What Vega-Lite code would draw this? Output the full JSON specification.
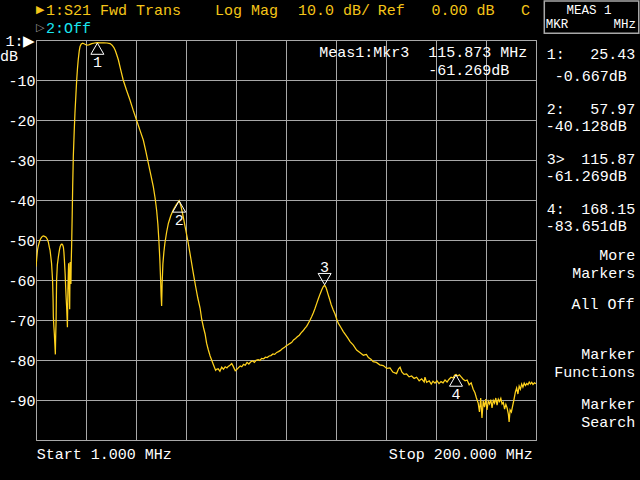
{
  "$schema": "https://vega.github.io/schema/vega-lite/v6.json",
  "width": 500,
  "height": 400,
  "autosize": {"type": "none"},
  "padding": {"left": 36, "top": 40, "right": 104, "bottom": 40},
  "background": "#000000",
  "config": {
    "view": {"stroke": "#a8a8a8", "strokeWidth": 1},
    "text": {"font": "Liberation Mono", "fontSize": 15, "baseline": "middle"}
  },
  "datasets": {
    "trace": [
      {"f":1.0,"db":-56.7},{"f":1.3,"db":-54.5},{"f":1.6,"db":-52.5},{"f":1.9,"db":-51.5},{"f":2.3,"db":-50.6},{"f":2.6,"db":-50.0},{"f":3.0,"db":-49.5},{"f":3.5,"db":-49.1},{"f":3.9,"db":-49.0},{"f":4.4,"db":-49.1},{"f":5.0,"db":-49.3},{"f":5.5,"db":-49.8},{"f":5.9,"db":-50.5},{"f":6.3,"db":-51.8},{"f":6.6,"db":-52.6},{"f":6.9,"db":-54.2},{"f":7.2,"db":-55.9},{"f":7.4,"db":-58},{"f":7.6,"db":-60.2},{"f":7.8,"db":-65},{"f":7.9,"db":-69.2},{"f":8.1,"db":-71.5},{"f":8.3,"db":-73.5},{"f":8.5,"db":-76},{"f":8.7,"db":-78.6},{"f":8.8,"db":-75},{"f":9.0,"db":-70},{"f":9.1,"db":-64.5},{"f":9.2,"db":-60},{"f":9.5,"db":-56.2},{"f":9.9,"db":-54.2},{"f":10.3,"db":-52.6},{"f":10.6,"db":-51.7},{"f":11.0,"db":-51.1},{"f":11.3,"db":-51.0},{"f":11.6,"db":-51.2},{"f":11.9,"db":-51.8},{"f":12.1,"db":-53},{"f":12.3,"db":-55},{"f":12.6,"db":-58.5},{"f":12.8,"db":-61.7},{"f":13.0,"db":-64.5},{"f":13.2,"db":-66.8},{"f":13.4,"db":-70},{"f":13.5,"db":-71.8},{"f":13.6,"db":-67},{"f":13.7,"db":-62.5},{"f":13.9,"db":-57.5},{"f":14.0,"db":-55.8},{"f":14.1,"db":-59},{"f":14.3,"db":-64.5},{"f":14.4,"db":-67.3},{"f":14.5,"db":-60},{"f":14.6,"db":-55.5},{"f":14.8,"db":-59.5},{"f":14.9,"db":-61},{"f":15.0,"db":-56},{"f":15.2,"db":-51},{"f":15.4,"db":-44},{"f":15.6,"db":-36.7},{"f":15.85,"db":-29.2},{"f":16.2,"db":-23},{"f":16.5,"db":-18.3},{"f":16.9,"db":-13.5},{"f":17.2,"db":-10},{"f":17.5,"db":-7.2},{"f":17.8,"db":-5},{"f":18.2,"db":-2.8},{"f":18.5,"db":-1.7},{"f":19.0,"db":-1.0},{"f":19.6,"db":-0.8},{"f":20.3,"db":-1.0},{"f":21.2,"db":-1.3},{"f":22.0,"db":-1.2},{"f":23.2,"db":-0.9},{"f":24.3,"db":-0.75},{"f":25.43,"db":-0.667},{"f":26.5,"db":-0.7},{"f":28.0,"db":-0.7},{"f":29.3,"db":-0.75},{"f":30.5,"db":-0.9},{"f":31.3,"db":-1.3},{"f":32.0,"db":-1.9},{"f":32.6,"db":-2.7},{"f":33.2,"db":-3.8},{"f":33.8,"db":-5.0},{"f":34.7,"db":-7.4},{"f":35.7,"db":-10},{"f":37.0,"db":-12.5},{"f":38.4,"db":-15},{"f":39.7,"db":-17.6},{"f":41.0,"db":-20},{"f":42.4,"db":-22.6},{"f":43.7,"db":-25},{"f":44.7,"db":-27.8},{"f":45.7,"db":-30.8},{"f":46.7,"db":-33.7},{"f":47.7,"db":-36.7},{"f":48.4,"db":-39.5},{"f":49.0,"db":-42.5},{"f":49.5,"db":-46},{"f":49.9,"db":-50},{"f":50.3,"db":-55},{"f":50.6,"db":-60},{"f":50.8,"db":-64},{"f":51.0,"db":-66.5},{"f":51.2,"db":-61},{"f":51.5,"db":-56},{"f":51.9,"db":-53},{"f":52.3,"db":-50.8},{"f":53.0,"db":-48},{"f":53.7,"db":-45.8},{"f":54.6,"db":-44},{"f":55.6,"db":-42.5},{"f":56.8,"db":-41.2},{"f":57.97,"db":-40.13},{"f":58.7,"db":-41.5},{"f":59.6,"db":-44.2},{"f":60.6,"db":-47.5},{"f":61.6,"db":-50.8},{"f":62.6,"db":-54.5},{"f":63.6,"db":-58.3},{"f":64.5,"db":-61.5},{"f":65.4,"db":-64.5},{"f":66.3,"db":-67},{"f":67.0,"db":-70},{"f":67.7,"db":-72},{"f":68.3,"db":-73.5},{"f":68.9,"db":-75.8},{"f":69.6,"db":-77.5},{"f":70.3,"db":-79},{"f":70.9,"db":-80},{"f":71.5,"db":-81},{"f":72.0,"db":-81.8},{"f":72.5,"db":-82.6},{"f":72.9,"db":-82.3},
      {"f":73.5,"db":-82.2},{"f":74.2,"db":-82.8},{"f":74.9,"db":-81.8},{"f":75.6,"db":-82.3},{"f":76.3,"db":-81.7},{"f":77.0,"db":-82.0},{"f":77.5,"db":-81.6},{"f":78.2,"db":-81.3},{"f":78.9,"db":-80.9},{"f":79.5,"db":-81.6},{"f":80.3,"db":-82.7},{"f":80.9,"db":-82.4},{"f":81.6,"db":-81.9},{"f":82.3,"db":-81.5},{"f":82.9,"db":-81.7},{"f":83.6,"db":-81.1},{"f":84.3,"db":-81.3},{"f":85.0,"db":-80.6},{"f":85.7,"db":-81.0},{"f":86.4,"db":-80.5},{"f":87.2,"db":-80.2},{"f":87.9,"db":-80.6},{"f":88.6,"db":-80.1},{"f":89.4,"db":-79.9},{"f":90.1,"db":-80.1},{"f":90.8,"db":-79.6},{"f":91.6,"db":-79.7},{"f":92.3,"db":-79.3},{"f":93.0,"db":-79.4},{"f":93.8,"db":-79.0},{"f":94.5,"db":-78.9},{"f":95.3,"db":-78.5},{"f":96.0,"db":-78.6},{"f":96.8,"db":-78.1},{"f":97.5,"db":-77.9},{"f":98.3,"db":-77.6},{"f":99.0,"db":-77.2},{"f":99.8,"db":-76.9},{"f":100.5,"db":-76.5},{"f":101.3,"db":-76.2},{"f":102.0,"db":-75.9},{"f":102.8,"db":-75.6},{"f":103.5,"db":-75.0},{"f":104.3,"db":-74.6},{"f":105.0,"db":-74.2},{"f":105.8,"db":-73.8},{"f":106.5,"db":-73.2},{"f":107.3,"db":-72.7},{"f":108.0,"db":-72.1},{"f":108.7,"db":-71.6},{"f":109.4,"db":-70.8},{"f":110.0,"db":-70.1},{"f":110.7,"db":-69.2},{"f":111.4,"db":-68.2},{"f":112.0,"db":-67.2},{"f":112.7,"db":-65.9},{"f":113.3,"db":-64.8},{"f":114.0,"db":-63.6},{"f":114.7,"db":-62.5},{"f":115.3,"db":-61.7},{"f":115.87,"db":-61.27},{"f":116.5,"db":-62.0},{"f":117.1,"db":-63.3},{"f":117.8,"db":-64.7},{"f":118.5,"db":-66.2},{"f":119.3,"db":-67.5},{"f":120.0,"db":-68.5},{"f":120.7,"db":-69.8},{"f":121.3,"db":-70.8},{"f":122.3,"db":-71.8},{"f":123.3,"db":-72.9},{"f":124.3,"db":-73.8},{"f":125.2,"db":-74.6},{"f":126.0,"db":-75.4},{"f":127.3,"db":-76.3},{"f":128.6,"db":-77.5},{"f":129.9,"db":-78.1},{"f":131.3,"db":-78.8},{"f":132.5,"db":-78.6},{"f":133.3,"db":-79.4},{"f":134.3,"db":-79.8},{"f":135.2,"db":-80.4},{"f":136.5,"db":-80.6},{"f":137.8,"db":-81.2},{"f":139.2,"db":-81.4},{"f":140.6,"db":-82.1},{"f":141.9,"db":-82.0},{"f":143.0,"db":-83.0},{"f":144.5,"db":-83.4},{"f":145.3,"db":-82.2},{"f":145.9,"db":-81.8},{"f":146.6,"db":-83.0},{"f":147.5,"db":-83.6},{"f":148.5,"db":-83.5},{"f":149.5,"db":-84.2},{"f":150.5,"db":-84.0},{"f":151.5,"db":-84.6},{"f":152.5,"db":-84.3},{"f":153.5,"db":-85.2},{"f":154.5,"db":-84.7},{"f":155.5,"db":-85.5},{"f":155.8,"db":-84.3},{"f":156.5,"db":-85.6},{"f":157.5,"db":-85.2},{"f":158.3,"db":-86.0},{"f":159.0,"db":-85.3},{"f":159.8,"db":-85.8},{"f":160.6,"db":-85.2},{"f":161.4,"db":-85.9},{"f":162.2,"db":-85.4},{"f":163.0,"db":-85.7},{"f":163.8,"db":-85.0},{"f":164.6,"db":-85.5},{"f":165.4,"db":-84.8},{"f":166.2,"db":-84.3},{"f":167.0,"db":-84.5},{"f":167.6,"db":-83.8},{"f":168.15,"db":-83.65},{"f":168.8,"db":-84.0},{"f":169.5,"db":-83.7},{"f":170.3,"db":-84.3},{"f":171.0,"db":-84.8},{"f":171.8,"db":-85.2},{"f":172.6,"db":-85.0},{"f":173.4,"db":-86.2},{"f":174.2,"db":-85.7},{"f":175.0,"db":-87.3},{"f":175.7,"db":-88.2},{"f":176.3,"db":-89.5},{"f":177.0,"db":-90.8},{"f":177.5,"db":-93.0},{"f":178.0,"db":-89.5},{"f":178.5,"db":-94.5},{"f":179.0,"db":-90.2},{"f":179.5,"db":-91.8},{"f":180.0,"db":-89.8},{"f":180.5,"db":-92.5},{"f":181.0,"db":-90.3},{"f":181.5,"db":-91.0},{"f":182.0,"db":-89.9},{"f":182.5,"db":-92.0},{"f":183.0,"db":-90.1},{"f":183.5,"db":-90.8},{"f":184.0,"db":-89.5},{"f":184.5,"db":-91.3},{"f":185.0,"db":-89.8},{"f":185.5,"db":-90.4},{"f":186.0,"db":-89.6},{"f":186.5,"db":-91.0},{"f":187.0,"db":-90.6},{"f":187.5,"db":-92.3},{"f":188.0,"db":-91.1},{"f":188.5,"db":-92.0},{"f":189.0,"db":-93.5},{"f":189.3,"db":-95.5},{"f":189.7,"db":-92.5},{"f":190.2,"db":-93.0},{"f":190.7,"db":-91.5},{"f":191.2,"db":-90.0},{"f":191.8,"db":-88.0},{"f":192.3,"db":-87.0},{"f":192.8,"db":-88.5},{"f":193.3,"db":-86.5},{"f":193.8,"db":-87.3},{"f":194.3,"db":-86.0},{"f":194.8,"db":-86.8},{"f":195.3,"db":-85.8},{"f":195.8,"db":-86.4},{"f":196.3,"db":-85.9},{"f":196.8,"db":-86.2},{"f":197.3,"db":-85.5},{"f":197.8,"db":-86.0},{"f":198.3,"db":-85.6},{"f":198.8,"db":-86.1},{"f":199.4,"db":-85.7},{"f":200.0,"db":-85.9}
    ],
    "markers": [
      {"n":"1","f":25.43,"db":-0.667,"active":false},
      {"n":"2","f":57.97,"db":-40.128,"active":false},
      {"n":"3","f":115.87,"db":-61.269,"active":true},
      {"n":"4","f":168.15,"db":-83.651,"active":false}
    ],
    "notes": [
      {"f":1.0,"db":7.4,"label":"▶","group":"sym"},
      {"f":4.98,"db":7.4,"label":"1:S21 Fwd Trans","group":"header"},
      {"f":72.2,"db":7.4,"label":"Log Mag","group":"header"},
      {"f":105.3,"db":7.4,"label":"10.0 dB/","group":"header"},
      {"f":137.0,"db":7.4,"label":"Ref","group":"header"},
      {"f":158.4,"db":7.4,"label":"0.00 dB","group":"header"},
      {"f":194.0,"db":7.4,"label":"C","group":"header"},
      {"f":1.0,"db":3.0,"label":"▷","group":"ch2sym"},
      {"f":4.98,"db":3.0,"label":"2:Off","group":"ch2"},
      {"f":-13.3,"db":-4.0,"label":"dB","group":"label"},
      {"f":113.75,"db":-3.1,"label":"Meas1:Mkr3","group":"label"},
      {"f":157.1,"db":-3.1,"label":"115.873 MHz","group":"label"},
      {"f":157.1,"db":-7.6,"label":"-61.269dB","group":"label"},
      {"f":1.28,"db":-103.5,"label":"Start 1.000 MHz","group":"label"},
      {"f":198.7,"db":-103.5,"label":"Stop 200.000 MHz","group":"value"},
      {"f":221.1,"db":7.5,"label":"MEAS 1","group":"boxtitle"},
      {"f":203.9,"db":4.0,"label":"MKR","group":"boxleft"},
      {"f":239.8,"db":4.0,"label":"MHz","group":"boxright"},
      {"f":204.3,"db":-3.58,"label":"1:","group":"label"},
      {"f":239.5,"db":-3.58,"label":"25.43","group":"value"},
      {"f":236.1,"db":-9.0,"label":"-0.667dB","group":"value"},
      {"f":204.3,"db":-17.25,"label":"2:","group":"label"},
      {"f":239.5,"db":-17.25,"label":"57.97","group":"value"},
      {"f":236.1,"db":-21.5,"label":"-40.128dB","group":"value"},
      {"f":204.3,"db":-29.67,"label":"3>","group":"label"},
      {"f":239.5,"db":-29.67,"label":"115.87","group":"value"},
      {"f":236.1,"db":-34.0,"label":"-61.269dB","group":"value"},
      {"f":204.3,"db":-42.25,"label":"4:","group":"label"},
      {"f":239.5,"db":-42.25,"label":"168.15","group":"value"},
      {"f":236.1,"db":-46.5,"label":"-83.651dB","group":"value"},
      {"f":239.5,"db":-53.75,"label":"More","group":"value"},
      {"f":239.5,"db":-58.17,"label":"Markers","group":"value"},
      {"f":239.2,"db":-66.0,"label":"All Off","group":"value"},
      {"f":239.5,"db":-78.58,"label":"Marker","group":"value"},
      {"f":239.5,"db":-82.92,"label":"Functions","group":"value"},
      {"f":239.5,"db":-91.08,"label":"Marker","group":"value"},
      {"f":239.5,"db":-95.58,"label":"Search","group":"value"}
    ],
    "box": [
      {"f":203.3,"f2":240.9,"db":9.75,"db2":1.67}
    ]
  },
  "encoding": {
    "x": {
      "field": "f", "type": "quantitative",
      "scale": {"domain": [1, 200], "nice": false, "zero": false},
      "axis": {
        "values": [1, 20.9, 40.8, 60.7, 80.6, 100.5, 120.4, 140.3, 160.2, 180.1, 200],
        "grid": true, "gridColor": "#a8a8a8", "gridOpacity": 1, "gridWidth": 1,
        "labels": false, "ticks": false, "domain": false, "title": null
      }
    },
    "y": {
      "field": "db", "type": "quantitative",
      "scale": {"domain": [-100, 0], "nice": false, "zero": false},
      "axis": {
        "values": [0, -10, -20, -30, -40, -50, -60, -70, -80, -90, -100],
        "grid": true, "gridColor": "#a8a8a8", "gridOpacity": 1, "gridWidth": 1,
        "ticks": false, "domain": false, "title": null,
        "labelColor": "#ffffff", "labelFont": "Liberation Mono", "labelFontSize": 15,
        "labelPadding": 1,
        "labelExpr": "datum.value == 0 ? '1:▶' : (datum.value == -100 ? '' : '' + datum.value)"
      }
    },
    "color": {"field": "group", "type": "nominal", "legend": null,
      "scale": {"domain": ["sym", "header", "ch2sym", "ch2", "label", "value", "boxtitle", "boxleft", "boxright"],
                "range": ["#f5c518", "#f5c518", "#9a9a9a", "#19e6f0", "#ffffff", "#ffffff", "#ffffff", "#ffffff", "#ffffff"]}}
  },
  "layer": [
    {
      "data": {"name": "trace"},
      "mark": {"type": "line", "color": "#ffd21c", "strokeWidth": 1.25, "clip": true, "interpolate": "linear"},
      "encoding": {"color": {"value": "#ffd21c"}}
    },
    {
      "data": {"name": "markers"},
      "transform": [{"filter": "!datum.active"}],
      "mark": {"type": "point", "shape": "triangle-up", "size": 169, "filled": false, "strokeWidth": 1, "opacity": 1, "yOffset": 6},
      "encoding": {"color": {"value": "#ffffff"}}
    },
    {
      "data": {"name": "markers"},
      "transform": [{"filter": "datum.active"}],
      "mark": {"type": "point", "shape": "triangle-down", "size": 169, "filled": false, "strokeWidth": 1, "opacity": 1, "yOffset": -6},
      "encoding": {"color": {"value": "#ffffff"}}
    },
    {
      "data": {"name": "markers"},
      "transform": [{"filter": "!datum.active"}],
      "mark": {"type": "text", "dy": 19, "align": "center"},
      "encoding": {"text": {"field": "n"}, "color": {"value": "#ffffff"}}
    },
    {
      "data": {"name": "markers"},
      "transform": [{"filter": "datum.active"}],
      "mark": {"type": "text", "dy": -18, "align": "center"},
      "encoding": {"text": {"field": "n"}, "color": {"value": "#ffffff"}}
    },
    {
      "data": {"name": "box"},
      "mark": {"type": "rect", "fill": "#000000", "stroke": "#a8a8a8", "strokeWidth": 1.5},
      "encoding": {"x2": {"field": "f2"}, "y2": {"field": "db2"}, "color": {"value": "#000000"}}
    },
    {
      "data": {"name": "notes"},
      "transform": [{"filter": "datum.group == 'sym' || datum.group == 'ch2sym'"}],
      "mark": {"type": "text", "align": "left", "fontSize": 11, "font": "DejaVu Sans"},
      "encoding": {"text": {"field": "label"}}
    },
    {
      "data": {"name": "notes"},
      "transform": [{"filter": "datum.group == 'header' || datum.group == 'ch2' || datum.group == 'label'"}],
      "mark": {"type": "text", "align": "left"},
      "encoding": {"text": {"field": "label"}}
    },
    {
      "data": {"name": "notes"},
      "transform": [{"filter": "datum.group == 'value'"}],
      "mark": {"type": "text", "align": "right"},
      "encoding": {"text": {"field": "label"}}
    },
    {
      "data": {"name": "notes"},
      "transform": [{"filter": "datum.group == 'boxtitle'"}],
      "mark": {"type": "text", "align": "center", "fontSize": 12.5},
      "encoding": {"text": {"field": "label"}}
    },
    {
      "data": {"name": "notes"},
      "transform": [{"filter": "datum.group == 'boxleft'"}],
      "mark": {"type": "text", "align": "left", "fontSize": 12.5},
      "encoding": {"text": {"field": "label"}}
    },
    {
      "data": {"name": "notes"},
      "transform": [{"filter": "datum.group == 'boxright'"}],
      "mark": {"type": "text", "align": "right", "fontSize": 12.5},
      "encoding": {"text": {"field": "label"}}
    }
  ]
}
